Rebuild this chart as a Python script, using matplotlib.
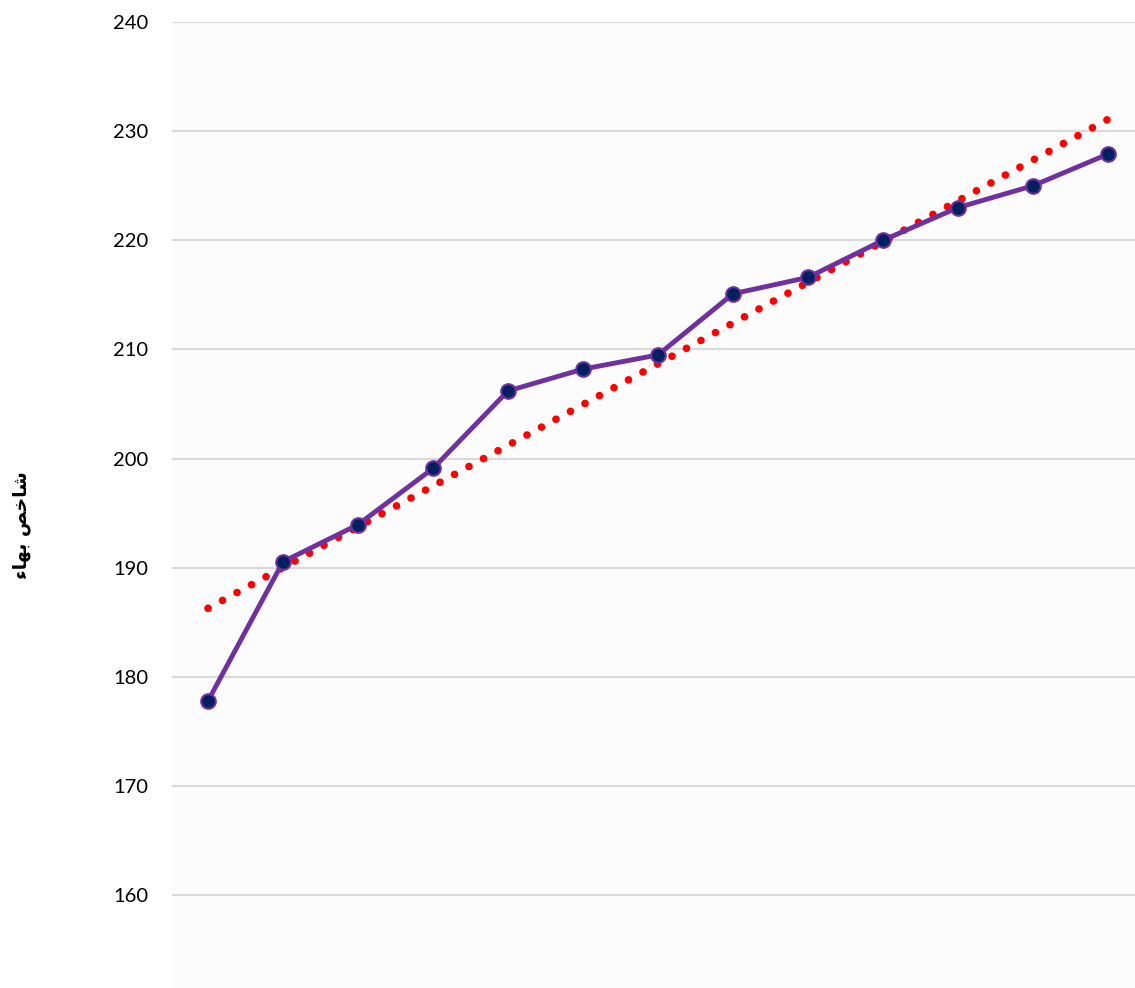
import numpy as np
import matplotlib.pyplot as plt

# values (13 periods)
periods = np.arange(1, 14)
price_index = [177.8, 190.55, 193.95, 199.1, 206.2, 208.2, 209.5,
               215.1, 216.6, 220.0, 223.0, 225.0, 227.9]
y_ticks = [160, 170, 180, 190, 200, 210, 220, 230, 240]

# "شاخص بهاء" in presentation forms, visual order (matplotlib has no shaping)
ylabel_text = "\uFE80\uFE8E\uFEEC\uFE91 \uFEBA\uFEA7\uFE8E\uFEB7"

fig = plt.figure(figsize=(11.35, 9.88), dpi=100)
ax = fig.add_axes([172 / 1135, 0, 1 - 172 / 1135, 1 - 22 / 988])
ax.set_facecolor('#fcfcfc')

# linear trend line
slope, intercept = np.polyfit(periods, price_index, 1)
trend = slope * periods + intercept
ax.plot(periods, trend, color='#ff0000', lw=5.5, linestyle=(0, (0.01, 2.15)),
        dash_capstyle='round', zorder=2)

# main series
ax.plot(periods, price_index, color='#7030a0', lw=3.5, marker='o',
        markersize=10.5, markerfacecolor='#002060', markeredgecolor='#7030a0',
        markeredgewidth=1.5, zorder=3)

ax.set_xlim(0.52, 13.36)
ax.set_ylim(151.5, 240)
ax.set_yticks(y_ticks)
ax.set_xticks([])
ax.grid(axis='y', color='#d9d9d9', lw=1.5)
ax.set_axisbelow(True)
for s in ax.spines.values():
    s.set_visible(False)
ax.tick_params(axis='y', length=0, pad=17, labelsize=14.5)
for lab in ax.get_yticklabels():
    lab.set_family('Lato')

fig.text(22 / 1135, 1 - 525 / 988, ylabel_text, rotation=90, ha='center',
         va='center', fontsize=13.5, fontweight='bold', family='DejaVu Sans')

plt.savefig('out.png', dpi=100)
